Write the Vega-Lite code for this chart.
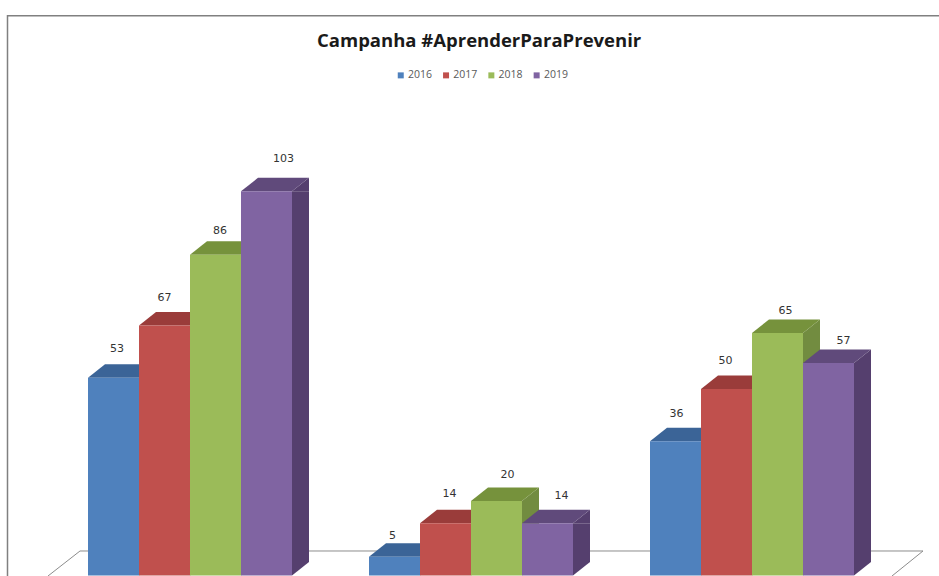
{"$schema":"https://vega.github.io/schema/vega-lite/v6.json","width":939,"height":576,"padding":0,"autosize":{"type":"none"},"background":"white","title":{"text":"Campanha #AprenderParaPrevenir","frame":"group","anchor":"start","dx":317,"dy":54,"font":"Open Sans","fontSize":18.5,"fontWeight":"bold","color":"#1a1a1a"},"config":{"view":{"stroke":null},"text":{"font":"DejaVu Sans","fontSize":11,"color":"#333333","baseline":"middle"}},"datasets":{"barras":[{"grupo":"Grupo 1","ano":"2016","valor":53},{"grupo":"Grupo 1","ano":"2017","valor":67},{"grupo":"Grupo 1","ano":"2018","valor":86},{"grupo":"Grupo 1","ano":"2019","valor":103},{"grupo":"Grupo 2","ano":"2016","valor":5},{"grupo":"Grupo 2","ano":"2017","valor":14},{"grupo":"Grupo 2","ano":"2018","valor":20},{"grupo":"Grupo 2","ano":"2019","valor":14},{"grupo":"Grupo 3","ano":"2016","valor":36},{"grupo":"Grupo 3","ano":"2017","valor":50},{"grupo":"Grupo 3","ano":"2018","valor":65},{"grupo":"Grupo 3","ano":"2019","valor":57}],"piso":[{"ordem":1,"px":48,"py":-0.13},{"ordem":2,"px":80,"py":6.57},{"ordem":3,"px":923,"py":6.57},{"ordem":4,"px":892,"py":-0.13}],"moldura":[{"ordem":1,"px":7.5,"py":-0.13},{"ordem":2,"px":7.5,"py":150.1},{"ordem":3,"px":939,"py":150.1}]},"layer":[{"layer":[{"data":{"name":"moldura"},"mark":{"type":"line","color":"#808080","strokeWidth":1.5},"encoding":{"x":{"field":"px","type":"quantitative","scale":{"domain":[0,939],"range":[0,939]},"axis":null},"y":{"field":"py","type":"quantitative"},"order":{"field":"ordem"}}},{"data":{"name":"piso"},"mark":{"type":"line","color":"#8c8c8c","strokeWidth":1},"encoding":{"x":{"field":"px","type":"quantitative","scale":{"domain":[0,939],"range":[0,939]},"axis":null},"y":{"field":"py","type":"quantitative"},"order":{"field":"ordem"}}}]},{"data":{"name":"barras"},"encoding":{"x":{"field":"grupo","type":"nominal","axis":null,"scale":{"domain":["Grupo 1","Grupo 2","Grupo 3"],"range":[49.5,892.5],"paddingInner":0,"paddingOuter":0}},"xOffset":{"field":"ano","type":"nominal","bandPosition":0.5,"scale":{"type":"band","domain":["2016","2017","2018","2019"],"paddingInner":0,"paddingOuter":0.755}},"y":{"field":"valor","type":"quantitative"}},"layer":[{"mark":{"type":"bar","width":17},"encoding":{"xOffset":{"field":"ano","type":"nominal","scale":{"type":"band","domain":["2016","2017","2018","2019"],"range":[34,315],"paddingInner":0,"paddingOuter":0.755}},"y2":{"datum":3.6},"color":{"field":"ano","type":"nominal","legend":null,"scale":{"domain":["2016","2017","2018","2019"],"range":["#3a5f8f","#8f3a38","#728c40","#553f6e"]}}}},{"mark":{"type":"point","filled":true,"opacity":1,"size":10000,"strokeWidth":0,"shape":"M0.51 0L0.85 -0.27L0.85 0Z"},"encoding":{"color":{"field":"ano","type":"nominal","legend":null,"scale":{"domain":["2016","2017","2018","2019"],"range":["#3a5f8f","#8f3a38","#728c40","#553f6e"]}}}},{"mark":{"type":"point","filled":true,"opacity":1,"size":10000,"strokeWidth":0,"shape":"M0.51 0L0.85 -0.27L0.51 -0.27Z"},"encoding":{"y":{"datum":0},"color":{"field":"ano","type":"nominal","legend":null,"scale":{"domain":["2016","2017","2018","2019"],"range":["#3a5f8f","#8f3a38","#728c40","#553f6e"]}}}},{"mark":{"type":"point","filled":true,"opacity":1,"size":10000,"strokeWidth":0,"shape":"M-0.51 0L0.51 0L0.85 -0.27L-0.17 -0.27Z"},"encoding":{"color":{"field":"ano","type":"nominal","legend":null,"scale":{"domain":["2016","2017","2018","2019"],"range":["#3b6497","#9a3c3a","#76923c","#604a7b"]}}}},{"mark":{"type":"bar"},"encoding":{"y2":{"datum":0},"color":{"field":"ano","type":"nominal","scale":{"domain":["2016","2017","2018","2019"],"range":["#4f81bd","#c0504d","#9bbb59","#8064a2"]},"legend":{"title":null,"orient":"none","legendX":395.5,"legendY":70,"direction":"horizontal","columns":4,"symbolType":"square","symbolSize":36,"labelFont":"Open Sans","labelFontSize":10.5,"labelColor":"#595959","columnPadding":8.3,"symbolStrokeWidth":0,"labelOffset":2}}}},{"transform":[{"filter":"datum.grupo=='Grupo 1'&&datum.ano=='2016'"}],"mark":{"type":"text","dx":3.5,"dy":-29},"encoding":{"text":{"field":"valor","type":"quantitative"}}},{"transform":[{"filter":"datum.grupo=='Grupo 1'&&datum.ano=='2017'"}],"mark":{"type":"text","dx":0,"dy":-28},"encoding":{"text":{"field":"valor","type":"quantitative"}}},{"transform":[{"filter":"datum.grupo=='Grupo 1'&&datum.ano=='2018'"}],"mark":{"type":"text","dx":4.5,"dy":-24},"encoding":{"text":{"field":"valor","type":"quantitative"}}},{"transform":[{"filter":"datum.grupo=='Grupo 1'&&datum.ano=='2019'"}],"mark":{"type":"text","dx":17,"dy":-32},"encoding":{"text":{"field":"valor","type":"quantitative"}}},{"transform":[{"filter":"datum.grupo=='Grupo 2'&&datum.ano=='2016'"}],"mark":{"type":"text","dx":-2,"dy":-21},"encoding":{"text":{"field":"valor","type":"quantitative"}}},{"transform":[{"filter":"datum.grupo=='Grupo 2'&&datum.ano=='2017'"}],"mark":{"type":"text","dx":4,"dy":-29},"encoding":{"text":{"field":"valor","type":"quantitative"}}},{"transform":[{"filter":"datum.grupo=='Grupo 2'&&datum.ano=='2018'"}],"mark":{"type":"text","dx":11,"dy":-26},"encoding":{"text":{"field":"valor","type":"quantitative"}}},{"transform":[{"filter":"datum.grupo=='Grupo 2'&&datum.ano=='2019'"}],"mark":{"type":"text","dx":14,"dy":-27},"encoding":{"text":{"field":"valor","type":"quantitative"}}},{"transform":[{"filter":"datum.grupo=='Grupo 3'&&datum.ano=='2016'"}],"mark":{"type":"text","dx":1,"dy":-27},"encoding":{"text":{"field":"valor","type":"quantitative"}}},{"transform":[{"filter":"datum.grupo=='Grupo 3'&&datum.ano=='2017'"}],"mark":{"type":"text","dx":-1,"dy":-28},"encoding":{"text":{"field":"valor","type":"quantitative"}}},{"transform":[{"filter":"datum.grupo=='Grupo 3'&&datum.ano=='2018'"}],"mark":{"type":"text","dx":8,"dy":-22},"encoding":{"text":{"field":"valor","type":"quantitative"}}},{"transform":[{"filter":"datum.grupo=='Grupo 3'&&datum.ano=='2019'"}],"mark":{"type":"text","dx":15,"dy":-22},"encoding":{"text":{"field":"valor","type":"quantitative"}}}],"resolve":{"scale":{"color":"independent","xOffset":"independent"}}}],"resolve":{"scale":{"x":"independent","color":"independent"}},"encoding":{"y":{"type":"quantitative","axis":null,"scale":{"domain":[-0.134,154.29],"zero":false,"nice":false}}}}
